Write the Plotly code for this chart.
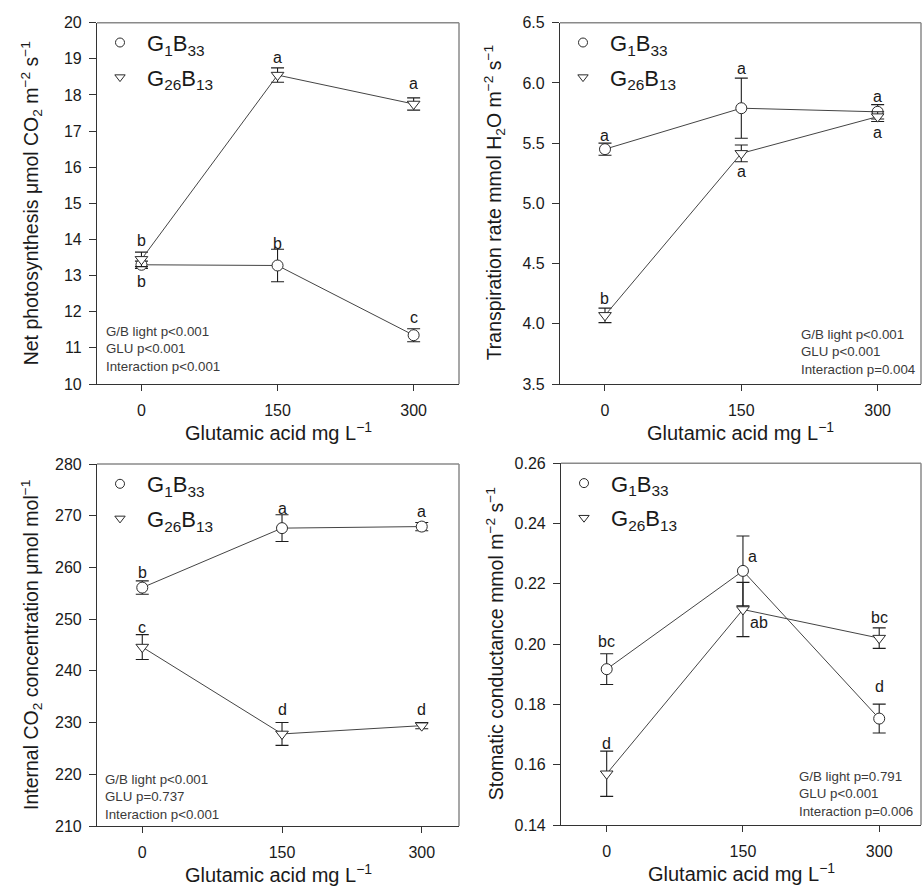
import plotly.graph_objects as go

# Glutamic acid dose (mg L-1)
dose = [0, 150, 300]
dose_ticks = [0, 150, 300]

# Net photosynthesis (umol CO2 m-2 s-1): mean and SE
pn_g1b33 = [13.30, 13.28, 11.35]
pn_g1b33_se = [0.10, 0.45, 0.18]
pn_g26b13 = [13.45, 18.55, 17.75]
pn_g26b13_se = [0.20, 0.20, 0.17]
pn_g1b33_sig = ["b", "b", "c"]
pn_g26b13_sig = ["b", "a", "a"]

# Transpiration rate (mmol H2O m-2 s-1)
tr_g1b33 = [5.45, 5.79, 5.76]
tr_g1b33_se = [0.05, 0.25, 0.06]
tr_g26b13 = [4.07, 5.415, 5.72]
tr_g26b13_se = [0.06, 0.07, 0.04]
tr_g1b33_sig = ["a", "a", "a"]
tr_g26b13_sig = ["b", "a", "a"]

# Internal CO2 concentration (umol mol-1)
ci_g1b33 = [256.1, 267.6, 267.9]
ci_g1b33_se = [1.3, 2.6, 0.8]
ci_g26b13 = [244.6, 227.8, 229.4]
ci_g26b13_se = [2.4, 2.2, 0.6]
ci_g1b33_sig = ["b", "a", "a"]
ci_g26b13_sig = ["c", "d", "d"]

# Stomatal conductance (mmol m-2 s-1)
gs_g1b33 = [0.1917, 0.2243, 0.1753]
gs_g1b33_se = [0.0051, 0.0116, 0.0048]
gs_g26b13 = [0.1570, 0.2115, 0.2020]
gs_g26b13_se = [0.0075, 0.0090, 0.0034]
gs_g1b33_sig = ["bc", "a", "d"]
gs_g26b13_sig = ["d", "ab", "bc"]

# Two-way ANOVA results printed in each panel
pn_stats = ["G/B light p<0.001", "GLU p<0.001", "Interaction p<0.001"]
tr_stats = ["G/B light p<0.001", "GLU p<0.001", "Interaction p=0.004"]
ci_stats = ["G/B light p<0.001", "GLU p=0.737", "Interaction p<0.001"]
gs_stats = ["G/B light p=0.791", "GLU p<0.001", "Interaction p=0.006"]

series_names = ["G<sub>1</sub>B<sub>33</sub>", "G<sub>26</sub>B<sub>13</sub>"]

W, H = 922, 890
FONT = "Liberation Sans, Arial, sans-serif"
INK = "#1a1a1a"
LINE = "#444444"


def px_x(p):
    return p / W


def px_y(p):
    return 1 - p / H


# panel geometry (pixel boxes: left, right, top, bottom) and styling
panels = [
    dict(box=(97, 459, 22.7, 384), yr=[10, 20], dt=1, fmt="d", xr=[-49, 350],
         ytitle="Net photosynthesis \u03bcmol CO<sub>2</sub> m<sup>\u22122</sup> s<sup>\u22121</sup>",
         data=[(pn_g1b33, pn_g1b33_se, pn_g1b33_sig), (pn_g26b13, pn_g26b13_se, pn_g26b13_sig)],
         stats=pn_stats, stats_pos=(104, 349),
         offs=[[(0, -17), (0, 22), (0, 18)], [(0, 19), (0, 18), (0, 20)]]),
    dict(box=(560, 921, 22.7, 384), yr=[3.5, 6.5], dt=0.5, fmt=".1f", xr=[-49.5, 347.7],
         ytitle="Transpiration rate mmol H<sub>2</sub>O m<sup>\u22122</sup> s<sup>\u22121</sup>",
         data=[(tr_g1b33, tr_g1b33_se, tr_g1b33_sig), (tr_g26b13, tr_g26b13_se, tr_g26b13_sig)],
         stats=tr_stats, stats_pos=(799, 351.7),
         offs=[[(0, 14), (0, 40), (0, 15)], [(0, 17), (0, -18), (0, -16)]]),
    dict(box=(97, 459, 464, 826), yr=[210, 280], dt=10, fmt="d", xr=[-48.6, 340],
         ytitle="Internal CO<sub>2</sub> concentration \u03bcmol mol<sup>\u22121</sup>",
         data=[(ci_g1b33, ci_g1b33_se, ci_g1b33_sig), (ci_g26b13, ci_g26b13_se, ci_g26b13_sig)],
         stats=ci_stats, stats_pos=(102.7, 796.7),
         offs=[[(0, 15), (0, 20), (0, 15)], [(0, 20), (0, 24), (0, 16)]]),
    dict(box=(561, 921, 463.3, 825), yr=[0.14, 0.26], dt=0.02, fmt=".2f", xr=[-50.3, 346],
         ytitle="Stomatic conductance mmol m<sup>\u22122</sup> s<sup>\u22121</sup>",
         data=[(gs_g1b33, gs_g1b33_se, gs_g1b33_sig), (gs_g26b13, gs_g26b13_se, gs_g26b13_sig)],
         stats=gs_stats, stats_pos=(797.3, 794.3),
         offs=[[(0, 28), (10, 14), (0, 32)], [(0, 30), (16, -13), (0, 21)]]),
]

symbols = ["circle", "triangle-down"]
legend_symbols = ["circle-open", "triangle-down-open"]

fig = go.Figure()
layout = dict(
    width=W, height=H, margin=dict(l=0, r=0, t=0, b=0),
    paper_bgcolor="white", plot_bgcolor="white",
    font=dict(family=FONT, color=INK),
    showlegend=True, annotations=[], shapes=[],
)

for i, p in enumerate(panels):
    k = "" if i == 0 else str(i + 1)
    xa, ya = "x" + k, "y" + k
    left, right, top, bottom = p["box"]
    leg = "legend" + k

    for j, (vals, se, sig) in enumerate(p["data"]):
        fig.add_trace(go.Scatter(
            x=dose, y=vals, xaxis=xa, yaxis=ya, mode="lines+markers",
            line=dict(color=LINE, width=1),
            marker=dict(symbol=symbols[j], size=11, color="white",
                        line=dict(color="#2a2a2a", width=1)),
            error_y=dict(type="data", array=se, color="#1e1e1e", thickness=1.1, width=6.5),
            showlegend=False, hoverinfo="skip",
        ))
        # legend entry for the series
        fig.add_trace(go.Scatter(
            x=[None], y=[None], xaxis=xa, yaxis=ya, mode="markers",
            marker=dict(symbol=legend_symbols[j], size=9, color="#2a2a2a",
                        line=dict(width=1)),
            name=series_names[j], legend=leg, legendgroup=f"{i}-{j}",
            showlegend=True,
        ))
        # significance letters
        for d, v, s, (dx, dy) in zip(dose, vals, sig, p["offs"][j]):
            layout["annotations"].append(dict(
                x=d, y=v, xref=xa, yref=ya, text=s, showarrow=False,
                xshift=dx, yshift=dy, xanchor="center", yanchor="middle",
                font=dict(size=16, color=INK, family=FONT),
            ))

    layout["xaxis" + k] = dict(
        domain=[px_x(left), px_x(right)], anchor=ya, range=p["xr"],
        tickvals=dose_ticks, ticks="outside", ticklen=6, tickcolor="#333",
        showline=True, linecolor="#333", linewidth=1.2, showgrid=False,
        zeroline=False, tickfont=dict(size=16, color=INK), automargin=False,
        ticklabelstandoff=6,
    )
    layout["yaxis" + k] = dict(
        domain=[px_y(bottom), px_y(top)], anchor=xa, range=p["yr"],
        dtick=p["dt"], tick0=p["yr"][0], tickformat=p["fmt"],
        ticks="outside", ticklen=7, tickcolor="#333",
        showline=True, linecolor="#333", linewidth=1.2, showgrid=False,
        zeroline=False, tickfont=dict(size=16, color=INK), automargin=False,
        ticklabelstandoff=4,
    )
    # gray top and right frame
    for x0, y0, x1, y1 in [(0, 1, 1, 1), (1, 0, 1, 1)]:
        layout["shapes"].append(dict(
            type="line", xref=xa + " domain", yref=ya + " domain",
            x0=x0, y0=y0, x1=x1, y1=y1, line=dict(color="#8a8a8a", width=1.5),
        ))

    layout[leg] = dict(
        x=px_x(left - 4), y=px_y(top - 1), xanchor="left", yanchor="top",
        bgcolor="rgba(0,0,0,0)", borderwidth=0, itemwidth=44,
        tracegroupgap=3, font=dict(size=22, color=INK, family=FONT),
        itemclick=False, itemdoubleclick=False,
    )

    # axis titles
    layout["annotations"].append(dict(
        x=px_x((left + right) / 2), y=px_y(bottom + 47), xref="paper", yref="paper",
        text="Glutamic acid mg L<sup>\u22121</sup>", showarrow=False,
        xanchor="center", yanchor="middle", font=dict(size=20, color=INK, family=FONT),
    ))
    layout["annotations"].append(dict(
        x=px_x(left - 66), y=px_y((top + bottom) / 2), xref="paper", yref="paper",
        text=p["ytitle"], textangle=-90, showarrow=False,
        xanchor="center", yanchor="middle", font=dict(size=19.5, color=INK, family=FONT),
    ))
    # ANOVA summary
    sx, sy = p["stats_pos"]
    layout["annotations"].append(dict(
        x=px_x(sx), y=px_y(sy), xref="paper", yref="paper",
        text="<br>".join(t.replace("<", "&lt;") for t in p["stats"]),
        showarrow=False, xanchor="left", yanchor="middle", align="left",
        font=dict(size=13.3, color="#3a3a3a", family=FONT),
    ))

fig.update_layout(**layout)
fig.write_html("out.html")
